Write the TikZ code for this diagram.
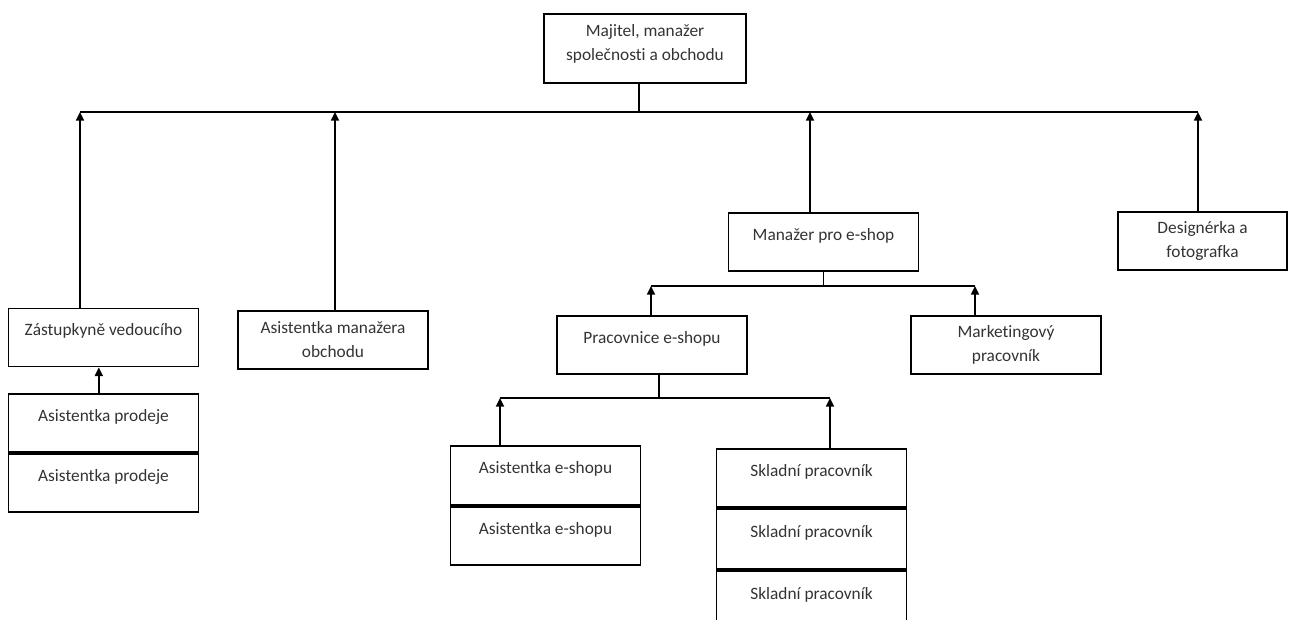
\documentclass[tikz,border=0pt]{standalone}
\usepackage{fontspec}
\setmainfont{Carlito}[Ligatures={NoCommon}]
\usetikzlibrary{positioning,arrows.meta}
\begin{document}
\begin{tikzpicture}[x=0.75pt, y=-0.75pt, >={Triangle[length=6.5pt,width=6pt]},
  box/.style={draw, line width=1.4pt, minimum width=142.5pt, minimum height=43.5pt, align=center, inner sep=2pt, font=\fontsize{13}{18}\selectfont, text=black!80},
  oneline/.style={text depth=11.5pt},
  link/.style={line width=1.3pt}]
\clip (0,0) rectangle (1301,620);
% boxes
\node[box, minimum width=151.5pt, minimum height=51.75pt, text depth=9pt] (owner) at (645,48.5) {Majitel, manažer\\společnosti a obchodu};
\node[box, oneline] (deputy) at (103.5,337.5) {Zástupkyně vedoucího};
\node[box, oneline] (sales1) at (103.5,423) {Asistentka prodeje};
\node[box, oneline, below=0pt of sales1] (sales2) {Asistentka prodeje};
\node[box] (shopasst) at (333,340) {Asistentka manažera\\obchodu};
\node[box, oneline] (eshopmgr) at (823.5,242) {Manažer pro e-shop};
\node[box, minimum width=126.75pt] (designer) at (1202.5,241) {Designérka a\\fotografka};
\node[box, oneline] (eshopwork) at (652,345) {Pracovnice e-shopu};
\node[box] (marketing) at (1006,345) {Marketingový\\pracovník};
\node[box, oneline, minimum height=44.25pt] (eshop1) at (545.5,475.5) {Asistentka e-shopu};
\node[box, oneline, minimum height=43.5pt, below=0pt of eshop1] (eshop2) {Asistentka e-shopu};
\node[box, oneline] (store1) at (811.5,478) {Skladní pracovník};
\node[box, oneline, minimum height=45pt, below=0pt of store1] (store2) {Skladní pracovník};
\node[box, oneline, minimum height=45pt, below=0pt of store2] (store3) {Skladní pracovník};
% bus points
\coordinate (b1) at (80,112);
\coordinate (b2) at (335,112);
\coordinate (b3) at (810,112);
\coordinate (b4) at (1198,112);
\coordinate (c1) at (651,286);
\coordinate (c2) at (975,286);
\coordinate (d1) at (500,398);
\coordinate (d2) at (830,398);
% lines
\draw[link] ([xshift=-4.5pt]owner.south) -- ([xshift=-4.5pt]owner.south |- b1);
\draw[link] (b1) -- (b4);
\draw[link, ->] (b1 |- deputy.north) -- (b1);
\draw[link, ->] (b2 |- shopasst.north) -- (b2);
\draw[link, ->] (b3 |- eshopmgr.north) -- (b3);
\draw[link, ->] (b4 |- designer.north) -- (b4);
\draw[link, ->] ([xshift=-3.5pt]sales1.north) -- ([xshift=-3.5pt]deputy.south);
\draw[link] (eshopmgr.south) -- (eshopmgr.south |- c1);
\draw[link] (c1) -- (c2);
\draw[link, ->] (c1 |- eshopwork.north) -- (c1);
\draw[link, ->] (c2 |- marketing.north) -- (c2);
\draw[link] ([xshift=5pt]eshopwork.south) -- ([xshift=5pt]eshopwork.south |- d1);
\draw[link] (d1) -- (d2);
\draw[link, ->] (d1 |- eshop1.north) -- (d1);
\draw[link, ->] (d2 |- store1.north) -- (d2);
\end{tikzpicture}
\end{document}
